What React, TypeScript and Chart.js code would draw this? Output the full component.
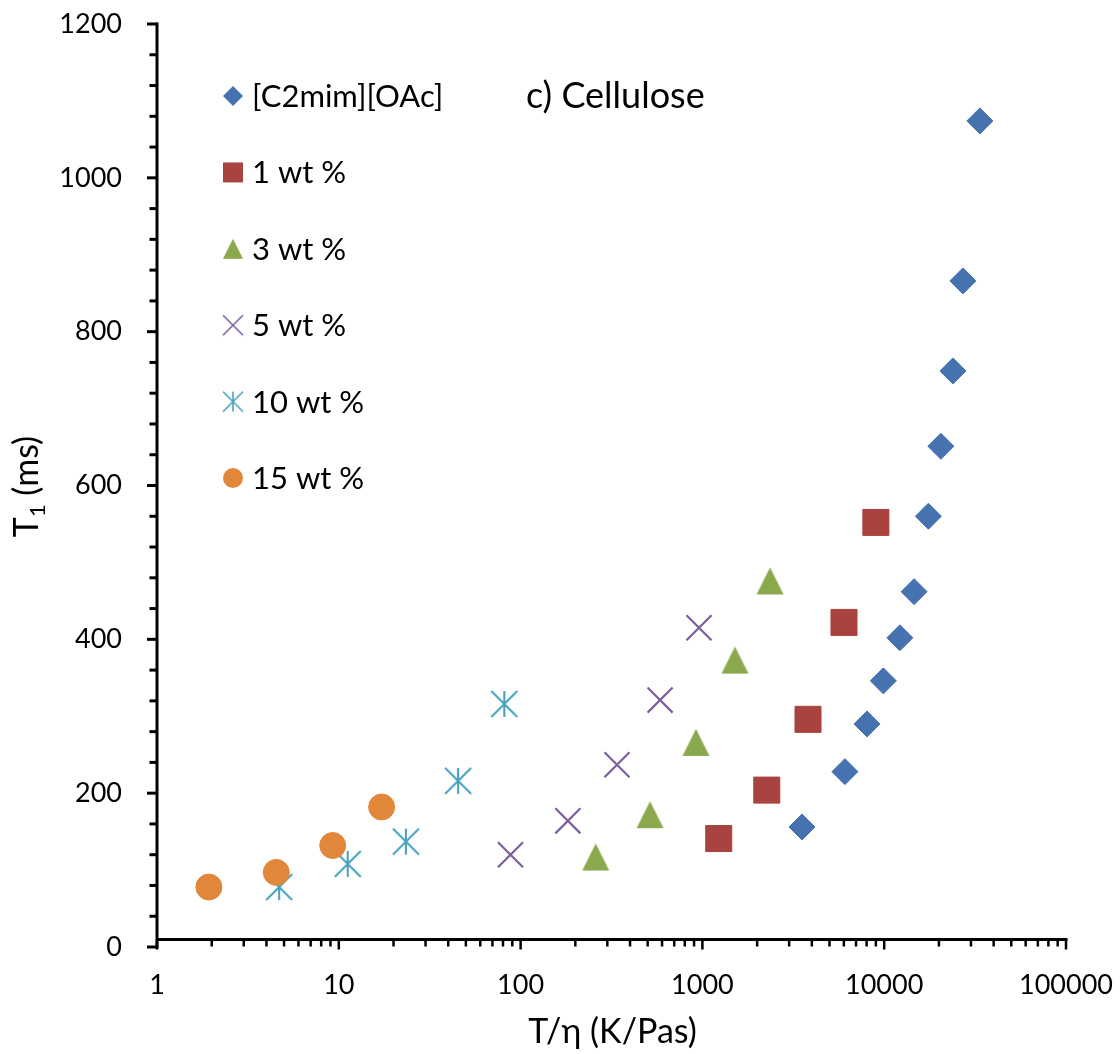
import React, { useEffect, useRef } from "react";
import { Chart, registerables } from "chart.js";

Chart.register(...registerables);

// ---------- data ----------
const SERIES_LABELS = ["[C2mim][OAc]", "1 wt %", "3 wt %", "5 wt %", "10 wt %", "15 wt %"];

const NEAT_X = [3530, 6080, 8040, 9890, 12200, 14600, 17500, 20500, 23900, 27100, 33600];
const NEAT_Y = [156, 228, 290, 346, 402, 462, 560, 651, 749, 866, 1074];
const WT1_X = [1230, 2260, 3810, 6010, 9000];
const WT1_Y = [141, 204, 296, 422, 552];
const WT3_X = [259, 515, 922, 1510, 2355];
const WT3_Y = [117, 172, 266, 373, 476];
const WT5_X = [88, 182, 339, 585, 958];
const WT5_Y = [120, 164, 237, 321, 415];
const WT10_X = [4.7, 11.2, 23.4, 45.3, 81.3];
const WT10_Y = [78, 108, 137, 216, 316];
const WT15_X = [1.93, 4.53, 9.26, 17.2];
const WT15_Y = [78, 97, 132, 182];

const X_TICKS = [1, 10, 100, 1000, 10000, 100000];
const X_MINOR_FACTORS = [2, 3, 4, 5, 6, 7, 8, 9];
const Y_TICKS = [0, 200, 400, 600, 800, 1000, 1200];
const Y_MINOR_STEP = 40;

const X_TITLE = "T/η (K/Pas)";
const Y_TITLE_MAIN = "T";
const Y_TITLE_SUB = "1";
const Y_TITLE_REST = " (ms)";
const PANEL_LABEL = "c) Cellulose";

// ---------- styles ----------
const COLORS = ["#4672B0", "#A8433F", "#8AA84C", "#7B5E9E", "#47A3BD", "#E0873A"];
const KINDS = ["diamond", "square", "triangle", "x", "asterisk", "circle"];
const FONT = "Lato, 'Open Sans', 'DejaVu Sans', sans-serif";
const TEXT = "#000000";

function makeMarker(kind: string, size: number, color: string): HTMLCanvasElement {
  const pad = 3;
  const s = Math.ceil(size + pad * 2);
  const c = document.createElement("canvas");
  c.width = s;
  c.height = s;
  const ctx = c.getContext("2d")!;
  const cx = s / 2;
  const cy = s / 2;
  const h = size / 2;
  ctx.fillStyle = color;
  ctx.strokeStyle = color;
  ctx.lineCap = "butt";
  ctx.beginPath();
  if (kind === "diamond") {
    ctx.moveTo(cx, cy - h);
    ctx.lineTo(cx + h, cy);
    ctx.lineTo(cx, cy + h);
    ctx.lineTo(cx - h, cy);
    ctx.closePath();
    ctx.fill();
  } else if (kind === "square") {
    ctx.rect(cx - h, cy - h, size, size);
    ctx.fill();
  } else if (kind === "triangle") {
    ctx.moveTo(cx, cy - h);
    ctx.lineTo(cx + h, cy + h);
    ctx.lineTo(cx - h, cy + h);
    ctx.closePath();
    ctx.fill();
  } else if (kind === "x") {
    ctx.lineWidth = Math.max(1.6, size * 0.08);
    ctx.moveTo(cx - h, cy - h);
    ctx.lineTo(cx + h, cy + h);
    ctx.moveTo(cx + h, cy - h);
    ctx.lineTo(cx - h, cy + h);
    ctx.stroke();
  } else if (kind === "asterisk") {
    ctx.lineWidth = Math.max(1.6, size * 0.08);
    ctx.moveTo(cx - h, cy - h);
    ctx.lineTo(cx + h, cy + h);
    ctx.moveTo(cx + h, cy - h);
    ctx.lineTo(cx - h, cy + h);
    ctx.moveTo(cx, cy - h);
    ctx.lineTo(cx, cy + h);
    ctx.stroke();
  } else {
    ctx.arc(cx, cy, h, 0, Math.PI * 2);
    ctx.fill();
  }
  return c;
}

const pts = (xs: number[], ys: number[]) => xs.map((x, i) => ({ x, y: ys[i] }));

export default function App() {
  const ref = useRef<HTMLCanvasElement>(null);

  useEffect(() => {
    const canvas = ref.current;
    if (!canvas) return;

    const legendMarkers = KINDS.map((k, i) => makeMarker(k, 20, COLORS[i]));
    const triangleImg = makeMarker("triangle", 27, COLORS[2]);
    const asteriskImg = makeMarker("asterisk", 26, COLORS[4]);

    const decor = {
      id: "decor",
      beforeDatasetsDraw(chart: any) {
        const { ctx, chartArea, scales } = chart;
        const xs = scales.x;
        const ys = scales.y;
        ctx.save();
        ctx.strokeStyle = "#000";
        ctx.lineCap = "butt";
        // y axis
        const ax = chartArea.left;
        const yTop = ys.getPixelForValue(Y_TICKS[Y_TICKS.length - 1]);
        const yBot = ys.getPixelForValue(Y_TICKS[0]);
        ctx.lineWidth = 3;
        ctx.beginPath();
        ctx.moveTo(ax, yTop - 1.5);
        ctx.lineTo(ax, yBot + 1.5);
        ctx.stroke();
        for (let v = Y_TICKS[0]; v <= Y_TICKS[Y_TICKS.length - 1]; v += Y_MINOR_STEP) {
          const p = ys.getPixelForValue(v);
          const len = Y_TICKS.includes(v) ? 10 : 7.5;
          ctx.beginPath();
          ctx.moveTo(ax - len, p);
          ctx.lineTo(ax, p);
          ctx.stroke();
        }
        // x axis (sits slightly above y = 0, as in the reference)
        const axY = chartArea.bottom - 7.5;
        const xl = xs.getPixelForValue(X_TICKS[0]);
        const xr = xs.getPixelForValue(X_TICKS[X_TICKS.length - 1]);
        ctx.lineWidth = 3;
        ctx.beginPath();
        ctx.moveTo(xl, axY);
        ctx.lineTo(xr + 1.5, axY);
        ctx.stroke();
        ctx.lineWidth = 2.5;
        const drawXTick = (v: number, len: number) => {
          const p = xs.getPixelForValue(v);
          ctx.beginPath();
          ctx.moveTo(p, axY);
          ctx.lineTo(p, axY + len);
          ctx.stroke();
        };
        X_TICKS.forEach((d, i) => {
          drawXTick(d, 10);
          if (i < X_TICKS.length - 1) X_MINOR_FACTORS.forEach((f) => drawXTick(d * f, 7));
        });
        ctx.restore();
      },
      afterDraw(chart: any) {
        const { ctx, chartArea } = chart;
        ctx.save();
        ctx.fillStyle = TEXT;
        // x title
        ctx.font = `34px ${FONT}`;
        ctx.textAlign = "center";
        ctx.textBaseline = "alphabetic";
        ctx.fillText(X_TITLE, (chartArea.left + chartArea.right) / 2 + 1, 1043);
        // y title with subscript
        ctx.save();
        ctx.translate(38, (chartArea.top + chartArea.bottom) / 2 + 1);
        ctx.rotate(-Math.PI / 2);
        ctx.textAlign = "left";
        const mainFont = `34px ${FONT}`;
        const subFont = `22px ${FONT}`;
        ctx.font = mainFont;
        const wT = ctx.measureText(Y_TITLE_MAIN).width;
        const wR = ctx.measureText(Y_TITLE_REST).width;
        ctx.font = subFont;
        const wS = ctx.measureText(Y_TITLE_SUB).width;
        let sx = -(wT + wS + wR) / 2;
        ctx.font = mainFont;
        ctx.fillText(Y_TITLE_MAIN, sx, 0);
        sx += wT;
        ctx.font = subFont;
        ctx.fillText(Y_TITLE_SUB, sx, 7);
        sx += wS;
        ctx.font = mainFont;
        ctx.fillText(Y_TITLE_REST, sx, 0);
        ctx.restore();
        // panel label
        ctx.font = `36px ${FONT}`;
        ctx.textAlign = "left";
        ctx.fillText(PANEL_LABEL, 526, 108);
        // legend
        ctx.font = `31px ${FONT}`;
        SERIES_LABELS.forEach((lab, i) => {
          const cy = 96 + i * 76.4;
          const m = legendMarkers[i];
          ctx.drawImage(m, 233 - m.width / 2, cy - m.height / 2);
          ctx.fillText(lab, 252, cy + 11);
        });
        ctx.restore();
      },
    };

    const datasets: any[] = [
      {
        label: SERIES_LABELS[0],
        data: pts(NEAT_X, NEAT_Y),
        pointStyle: "rectRot",
        pointRadius: 13,
        backgroundColor: COLORS[0],
        borderColor: COLORS[0],
        borderWidth: 1,
        order: 5,
      },
      {
        label: SERIES_LABELS[1],
        data: pts(WT1_X, WT1_Y),
        pointStyle: "rect",
        pointRadius: 18.4,
        backgroundColor: COLORS[1],
        borderColor: COLORS[1],
        borderWidth: 1,
        order: 4,
      },
      {
        label: SERIES_LABELS[2],
        data: pts(WT3_X, WT3_Y),
        pointStyle: triangleImg,
        pointRadius: 13,
        backgroundColor: COLORS[2],
        borderColor: COLORS[2],
        order: 3,
      },
      {
        label: SERIES_LABELS[3],
        data: pts(WT5_X, WT5_Y),
        pointStyle: "crossRot",
        pointRadius: 17.7,
        backgroundColor: COLORS[3],
        borderColor: COLORS[3],
        borderWidth: 2.2,
        order: 2,
      },
      {
        label: SERIES_LABELS[4],
        data: pts(WT10_X, WT10_Y),
        pointStyle: asteriskImg,
        pointRadius: 13,
        backgroundColor: COLORS[4],
        borderColor: COLORS[4],
        order: 1,
      },
      {
        label: SERIES_LABELS[5],
        data: pts(WT15_X, WT15_Y),
        pointStyle: "circle",
        pointRadius: 13,
        backgroundColor: COLORS[5],
        borderColor: COLORS[5],
        borderWidth: 1,
        order: 0,
      },
    ].map((d) => ({ ...d, showLine: false, pointHoverRadius: d.pointRadius }));

    const tickFont = { family: FONT, size: 27 };

    const chart = new Chart(canvas, {
      type: "scatter",
      data: { datasets },
      options: {
        responsive: false,
        maintainAspectRatio: false,
        animation: false,
        events: [],
        layout: { padding: { top: 24, right: 54, left: 0, bottom: 0 } },
        plugins: {
          legend: { display: false },
          tooltip: { enabled: false },
          title: { display: false },
        },
        scales: {
          x: {
            type: "logarithmic",
            position: "bottom",
            min: X_TICKS[0],
            max: X_TICKS[X_TICKS.length - 1],
            grid: { display: false, drawTicks: false, drawOnChartArea: false },
            border: { display: false },
            ticks: {
              font: tickFont,
              color: TEXT,
              padding: 22,
              autoSkip: false,
              maxRotation: 0,
              minRotation: 0,
              callback: (v: any) => String(v),
            },
            afterBuildTicks: (s: any) => {
              s.ticks = X_TICKS.map((v) => ({ value: v }));
            },
            afterFit: (s: any) => {
              s.height = 107;
              s.paddingLeft = 0;
              s.paddingRight = 0;
            },
          },
          y: {
            type: "linear",
            min: Y_TICKS[0],
            max: Y_TICKS[Y_TICKS.length - 1],
            grid: { display: false, drawTicks: false, drawOnChartArea: false },
            border: { display: false },
            ticks: {
              font: tickFont,
              color: TEXT,
              padding: 35,
              autoSkip: false,
              callback: (v: any) => String(v),
            },
            afterBuildTicks: (s: any) => {
              s.ticks = Y_TICKS.map((v) => ({ value: v }));
            },
            afterFit: (s: any) => {
              s.width = 157;
              s.paddingTop = 0;
              s.paddingBottom = 0;
            },
          },
        },
      } as any,
      plugins: [decor as any],
    });

    return () => chart.destroy();
  }, []);

  return (
    <div style={{ position: "absolute", left: 0, top: 0, width: 1120, height: 1054, background: "#fff" }}>
      <canvas ref={ref} width={1120} height={1054} style={{ display: "block" }} />
    </div>
  );
}
